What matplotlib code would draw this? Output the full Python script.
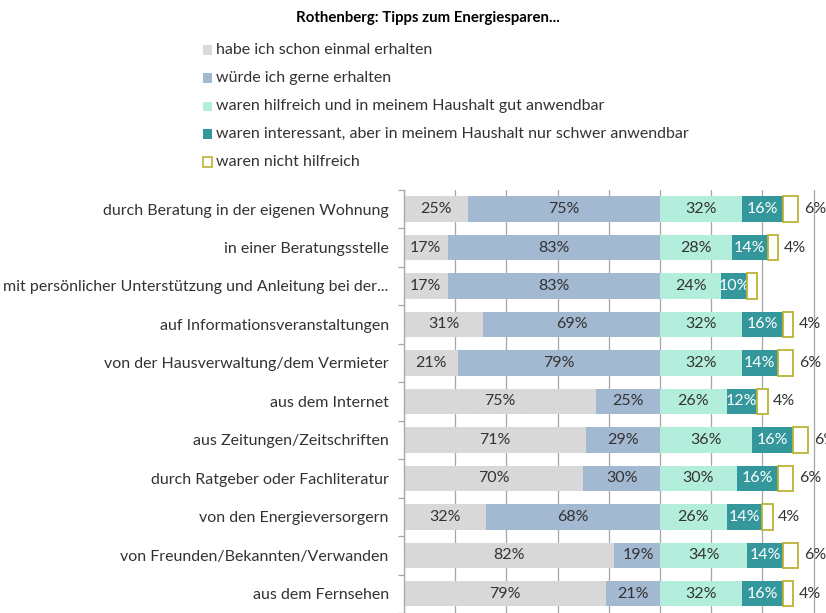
import matplotlib
matplotlib.use("Agg")
import matplotlib.pyplot as plt
from matplotlib.patches import Rectangle
import numpy as np

plt.rcParams['font.family'] = ['Lato', 'DejaVu Sans']
plt.rcParams['hatch.linewidth'] = 0.3

title = "Rothenberg: Tipps zum Energiesparen..."
categories = [
    "durch Beratung in der eigenen Wohnung",
    "in einer Beratungsstelle",
    "mit persönlicher Unterstützung und Anleitung bei der...",
    "auf Informationsveranstaltungen",
    "von der Hausverwaltung/dem Vermieter",
    "aus dem Internet",
    "aus Zeitungen/Zeitschriften",
    "durch Ratgeber oder Fachliteratur",
    "von den Energieversorgern",
    "von Freunden/Bekannten/Verwanden",
    "aus dem Fernsehen",
]
series_names = [
    "habe ich schon einmal erhalten",
    "würde ich gerne erhalten",
    "waren hilfreich und in meinem Haushalt gut anwendbar",
    "waren interessant, aber in meinem Haushalt nur schwer anwendbar",
    "waren nicht hilfreich",
]
erhalten = [25, 17, 17, 31, 21, 75, 71, 70, 32, 82, 79]
gerne = [75, 83, 83, 69, 79, 25, 29, 30, 68, 19, 21]
hilfreich = [32, 28, 24, 32, 32, 26, 36, 30, 26, 34, 32]
schwer = [16, 14, 10, 16, 14, 12, 16, 16, 14, 14, 16]
nicht = [6, 4, 4, 4, 6, 4, 6, 6, 4, 6, 4]
nicht_label_visible = [True, True, False, True, True, True, True, True, True, True, True]

face = ["#D9D9D9", "#A3B8D1", "#B3EEDD", "#33979B", "#FFFFFF"]
edge = [None, None, None, None, "#BDB234"]
txtcol = ["#333333", "#333333", "#333333", "#FFFFFF", "#333333"]

W, H = 826, 613
fig = plt.figure(figsize=(W / 100, H / 100), dpi=100)
ax_left = 404 / W
ax_top = 189.8 / H
ax = fig.add_axes([ax_left, 0.0, 1 - ax_left, 1 - ax_top])
px_per_pct = 2.56
ax.set_xlim(0, (W - 404) / px_per_pct)
n = len(categories)
ax.set_ylim(n - 0.5, -0.5)
y = np.arange(n)
h = 0.66

fs = 11.5
segs = [erhalten, gerne, hilfreich, schwer, nicht]
lefts = [np.zeros(n), np.array(erhalten, float), np.full(n, 100.0),
         100.0 + np.array(hilfreich, float),
         100.0 + np.array(hilfreich, float) + np.array(schwer, float)]
for k, (vals, lf) in enumerate(zip(segs, lefts)):
    kw = dict(left=lf, height=h, color=face[k], linewidth=0, zorder=2)
    if k == 0:
        kw.update(hatch='....', edgecolor="#D3D3D3", linewidth=0)
    if k == 4:
        kw.update(edgecolor=edge[k], linewidth=1.3, zorder=4)
    bars = ax.barh(y, vals, **kw)
    if k < 4:
        labels = [f"{v}%" for v in vals]
        ax.bar_label(bars, labels=labels, label_type='center', color=txtcol[k],
                     fontsize=fs, zorder=3)
    else:
        labels = [f"{v}%" if vis else "" for v, vis in zip(vals, nicht_label_visible)]
        ax.bar_label(bars, labels=labels, label_type='edge', padding=4,
                     color=txtcol[k], fontsize=fs, clip_on=False)

ax.set_xticks(np.arange(0, 161, 20))
ax.xaxis.grid(True, color="#A6A6A6", linewidth=0.9, zorder=0)
ax.set_axisbelow(True)
ax.tick_params(axis='x', length=0, labelbottom=False)
ax.set_yticks(y)
ax.set_yticklabels(categories, fontsize=fs, color="#333333")
ax.tick_params(axis='y', which='major', length=0, pad=11)
ax.set_yticks(np.arange(-0.5, n, 1), minor=True)
ax.tick_params(axis='y', which='minor', length=4, color="#A6A6A6", width=0.9)
for s in ['top', 'right', 'bottom']:
    ax.spines[s].set_visible(False)
ax.spines['left'].set_color("#A6A6A6")
ax.spines['left'].set_linewidth(0.9)

fig.text(428 / W, 1 - 18 / H, title, ha='center', va='center', fontsize=10.8,
         fontweight='bold', color="#000000")

leg_y = [50, 78, 106, 134, 162]
for k, name in enumerate(series_names):
    yy = 1 - leg_y[k] / H
    sq = 9
    fig.add_artist(Rectangle((203 / W, yy - sq / 2 / H), sq / W, sq / H,
                             transform=fig.transFigure,
                             facecolor=face[k], edgecolor=edge[k] if edge[k] else face[k],
                             linewidth=1.2 if edge[k] else 0))
    fig.text(216 / W, yy, name, ha='left', va='center', fontsize=fs, color="#333333")

fig.savefig("out.png", dpi=100)
